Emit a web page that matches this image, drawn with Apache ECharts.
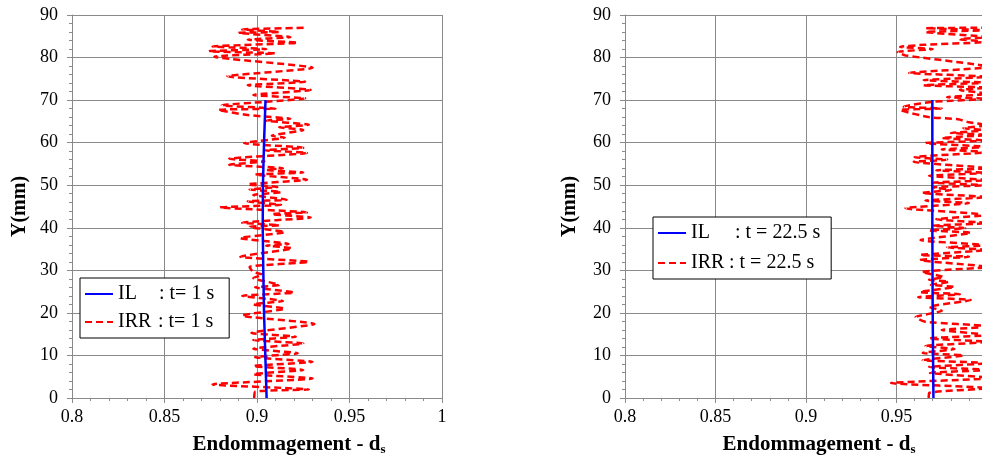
<!DOCTYPE html>
<html>
<head>
<meta charset="utf-8">
<script src="https://cdn.jsdelivr.net/npm/echarts@6/dist/echarts.min.js"></script>
<style>html,body{margin:0;padding:0;background:#fff}#c{width:982px;height:457px}</style>
</head>
<body>
<div id="c"></div>
<script>
// ---- data ----
var xTicks = [0.8, 0.85, 0.9, 0.95, 1];
var yTicks = [0, 10, 20, 30, 40, 50, 60, 70, 80, 90];

// Left: t = 1 s
var ilLeftY = [0, 10, 20, 30, 40, 50, 60, 70];
var ilLeftX = [0.9052, 0.9045, 0.9038, 0.9034, 0.9031, 0.9032, 0.9038, 0.9046];

var irrLeftX = [0.8985,0.899,0.928,0.876,0.930,0.898,0.925,0.898,0.930,0.899,0.922,0.898,0.925,0.898,0.921,0.897,0.931,0.892,0.915,0.898,0.914,0.892,0.920,0.899,0.912,0.898,0.903,0.898,0.896,0.928,0.891,0.919,0.905,0.917,0.891,0.915,0.896,0.912,0.892,0.929,0.908,0.927,0.880,0.913,0.895,0.916,0.898,0.913,0.896,0.911,0.895,0.927,0.899,0.925,0.905,0.914,0.885,0.904,0.885,0.927,0.904,0.925,0.893,0.915,0.908,0.925,0.912,0.928,0.905,0.918,0.895,0.879,0.910,0.881,0.905,0.926,0.898,0.929,0.895,0.926,0.884,0.930,0.877,0.910,0.874,0.905,0.876,0.922,0.895,0.918,0.890,0.912,0.892,0.926];
var irrLeftY = [0.0,1.5,2.0,3.2,4.6,5.6,6.6,7.5,8.5,9.6,10.5,11.6,12.8,13.6,14.4,15.3,17.4,19.4,21.0,22.0,22.8,24.0,24.8,26.0,26.6,28.2,29.0,29.6,30.8,32.0,33.2,35.2,35.8,36.2,37.6,39.0,40.2,40.6,41.2,42.4,43.2,43.6,44.8,45.4,46.2,46.6,47.7,48.4,49.0,49.6,50.2,51.3,52.5,53.0,53.6,54.0,54.8,55.6,56.2,57.6,58.2,58.8,59.9,61.2,61.6,63.0,63.6,64.2,65.2,65.6,66.5,67.7,68.0,68.8,69.6,70.4,71.2,72.4,73.5,74.3,75.6,77.6,80.2,81.0,81.5,82.0,82.6,83.5,84.2,84.8,85.8,86.0,86.6,87.0];

// Right: t = 22.5 s
var ilRightY = [0, 10, 20, 30, 40, 50, 60, 70];
var ilRightX = [0.9704, 0.9702, 0.9700, 0.9699, 0.9698, 0.9698, 0.9698, 0.9698];

var irrRightX = [0.9678,0.968,1.000,0.947,1.002,0.9685,1.000,0.968,1.001,0.9645,0.987,0.9645,0.982,0.966,1.000,0.968,1.000,0.975,1.003,0.966,0.9606,0.975,0.968,0.991,0.962,0.985,0.963,0.982,0.969,0.979,0.968,0.976,0.964,1.000,0.963,0.990,0.963,1.000,0.978,1.000,0.9633,0.991,0.968,0.988,0.970,1.000,0.972,1.000,0.955,0.990,0.966,1.000,0.964,0.980,0.970,1.000,0.970,1.000,0.968,1.000,0.972,1.000,0.9595,0.978,0.960,1.000,0.975,1.000,0.966,1.000,0.975,1.000,0.980,1.000,0.987,1.000,0.990,0.984,0.968,0.952,0.975,0.954,0.970,1.000,0.978,1.000,0.985,1.000,0.965,1.000,0.965,1.000,0.957,1.002,0.990,0.955,0.9506,0.970,0.952,0.965,1.000,0.985,1.000,0.966,1.000,0.966,1.000];
var irrRightY = [0,1.2,2.3,3.5,4.7,5.9,6.6,7.3,8.2,8.9,10.0,10.6,11.5,12.2,13.2,14.0,14.8,16.0,16.8,17.9,19.0,20.5,21.4,23.0,23.7,24.4,24.9,26.1,26.6,27.3,27.8,28.4,29.6,30.8,32.4,33.2,33.6,34.8,35.4,35.9,37.1,38.8,39.4,39.9,40.5,41.1,42.0,43.0,44.6,45.8,46.4,47.2,48.2,48.9,49.5,50.0,50.6,51.2,52.2,52.9,53.5,54.0,55.5,56.0,56.6,57.8,58.4,59.0,59.9,60.5,61.1,61.8,62.3,62.9,63.4,64.1,64.8,65.5,66.0,67.7,68.0,68.5,69.6,70.3,70.7,71.5,72.4,72.9,73.5,74.1,74.7,75.5,76.4,77.8,78.6,80.5,81.3,82.0,82.5,83.0,83.7,84.3,84.8,86.0,86.4,86.9,87.0];

function pairs(xs, ys) { return xs.map(function (x, i) { return [x, ys[i]]; }); }

var FONT = '"Liberation Serif", "Times New Roman", serif';
var GRID = '#8a8a8a';

function xAxisCfg(gi, pad) {
  return {
    type: 'value', gridIndex: gi, min: xTicks[0], max: xTicks[xTicks.length - 1], interval: 0.05,
    axisLine: { show: true, lineStyle: { color: GRID, width: 1 } },
    axisTick: { show: true, length: 5, lineStyle: { color: GRID } },
    minorTick: { show: true, splitNumber: 5, length: 3, lineStyle: { color: GRID } },
    splitLine: { show: true, lineStyle: { color: GRID, width: 1 } },
    axisLabel: { fontFamily: FONT, fontSize: 18, color: '#000', margin: 10,
      formatter: function (v) { return String(+v.toFixed(2)); } },
    name: '{t|Endommagement - d}{s|s}', nameLocation: 'middle', nameGap: 36,
    nameTextStyle: { padding: [0, 0, 0, pad], rich: {
      t: { fontFamily: FONT, fontSize: 21, fontWeight: 'bold', color: '#000' },
      s: { fontFamily: FONT, fontSize: 13, fontWeight: 'bold', color: '#000', padding: [9, 0, 0, 0] } } }
  };
}
function yAxisCfg(gi, gap) {
  return {
    type: 'value', gridIndex: gi, min: yTicks[0], max: yTicks[yTicks.length - 1], interval: 10,
    axisLine: { show: true, lineStyle: { color: GRID, width: 1 } },
    axisTick: { show: true, length: 5, lineStyle: { color: GRID } },
    minorTick: { show: true, splitNumber: 5, length: 3, lineStyle: { color: GRID } },
    splitLine: { show: true, lineStyle: { color: GRID, width: 1 } },
    axisLabel: { fontFamily: FONT, fontSize: 18, color: '#000', margin: 14 },
    name: 'Y(mm)', nameLocation: 'middle', nameGap: gap, nameRotate: 90,
    nameTextStyle: { fontFamily: FONT, fontSize: 20, fontWeight: 'bold', color: '#000' }
  };
}

function legendCfg(names, left, top, gap, wIL, wIRR, label, padR) {
  return {
    data: names, left: left, top: top, orient: 'vertical',
    borderColor: '#000', borderWidth: 1, backgroundColor: '#fff',
    padding: [6, padR, 6, 4], itemWidth: 28, itemHeight: 12, itemGap: gap,
    itemStyle: { opacity: 0 },
    textStyle: { fontFamily: FONT, fontSize: 20, color: '#000',
      rich: { a: { fontFamily: FONT, fontSize: 20, width: wIL }, c: { fontFamily: FONT, fontSize: 20, width: wIRR }, b: { fontFamily: FONT, fontSize: 20 } } },
    formatter: function (n) { return n.indexOf('IRR') === 0 ? '{c|IRR}{b|' + label + '}' : '{a|IL}{b|' + label + '}'; }
  };
}

var chart = echarts.init(document.getElementById('c'), null, { renderer: 'canvas' });
chart.setOption({
  animation: false,
  backgroundColor: '#fff',
  grid: [
    { left: 72, width: 370, top: 15, bottom: 59, outerBoundsMode: 'none', containLabel: false },
    { left: 625, width: 362, top: 15, bottom: 59, outerBoundsMode: 'none', containLabel: false }
  ],
  xAxis: [xAxisCfg(0, 64), xAxisCfg(1, 26)],
  yAxis: [yAxisCfg(0, 42), yAxisCfg(1, 45)],
  legend: [
    legendCfg(['IL1', 'IRR1'], 80, 278, 8, 41, 40, ': t= 1 s', 15),
    legendCfg(['IL2', 'IRR2'], 653, 217, 10, 44, 38, ': t = 22.5 s', 11)
  ],
  series: [
    { name: 'IL1', type: 'line', xAxisIndex: 0, yAxisIndex: 0, symbol: 'none', z: 3,
      lineStyle: { color: '#0000ff', width: 2.5 }, itemStyle: { color: '#0000ff' }, data: pairs(ilLeftX, ilLeftY) },
    { name: 'IRR1', type: 'line', xAxisIndex: 0, yAxisIndex: 0, symbol: 'none', smooth: 0.2, z: 2,
      lineStyle: { color: '#ff0000', width: 2.5, type: [7, 4] }, itemStyle: { color: '#ff0000' }, data: pairs(irrLeftX, irrLeftY) },
    { name: 'IL2', type: 'line', xAxisIndex: 1, yAxisIndex: 1, symbol: 'none', z: 3,
      lineStyle: { color: '#0000ff', width: 2.5 }, itemStyle: { color: '#0000ff' }, data: pairs(ilRightX, ilRightY) },
    { name: 'IRR2', type: 'line', xAxisIndex: 1, yAxisIndex: 1, symbol: 'none', smooth: 0.2, z: 2,
      lineStyle: { color: '#ff0000', width: 2.5, type: [7, 4] }, itemStyle: { color: '#ff0000' }, data: pairs(irrRightX, irrRightY) }
  ]
});
</script>
</body>
</html>
